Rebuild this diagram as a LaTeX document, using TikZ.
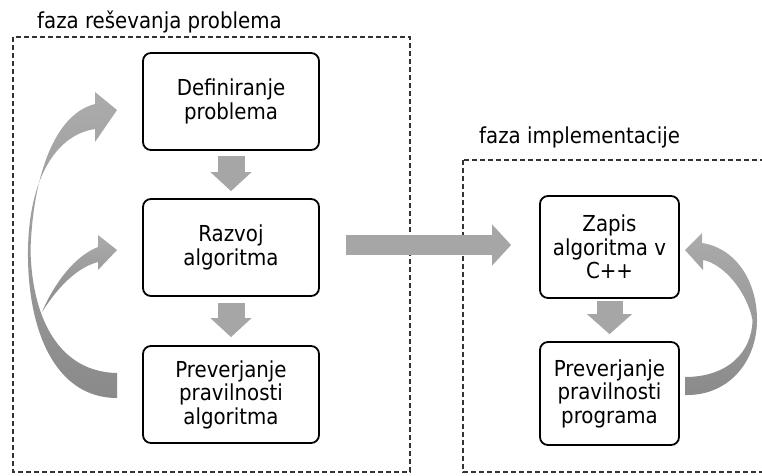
\documentclass[tikz,border=0pt]{standalone}
\usepackage{fontspec}
\setmainfont{DejaVu Sans Condensed}
\usetikzlibrary{arrows.meta,calc}
\definecolor{arrowgray}{HTML}{A6A6A6}
\definecolor{arrowlight}{HTML}{ABABAB}
\definecolor{arrowdark}{HTML}{8A8A8A}
\definecolor{framegray}{HTML}{333333}
\tikzset{
  stepbox/.style={draw=black, line width=1.8pt, rounded corners=8pt, fill=white,
    align=center, inner sep=0pt, font=\fontsize{22}{23.5}\selectfont},
  phase/.style={draw=framegray, line width=1.4pt, dash pattern=on 5pt off 3pt},
  phasetitle/.style={anchor=base west, inner sep=0pt, font=\fontsize{22}{24}\selectfont},
  downarrow/.style={draw=arrowgray, line width=27pt, -{Triangle[width=40pt,length=19pt]}},
  flowarrow/.style={draw=arrowgray, line width=20pt, -{Triangle[width=40pt,length=19pt]}},
  loopfill/.style={top color=arrowlight, bottom color=arrowdark, draw=none},
}
\begin{document}
\begin{tikzpicture}[x=1pt,y=-1pt]
\useasboundingbox (0,0) rectangle (762,475);
\fill[white] (0,0) rectangle (762,475);
\clip (0,0) rectangle (762,475);

% phase frames
\draw[phase] (13,37) rectangle (410,472);
\draw[phase] (463,160) rectangle (790,472);
\node[phasetitle] (t1) at (37,28) {faza reševanja problema};
\node[phasetitle] (t2) at (479,143) {faza implementacije};

% problem-solving steps
\node[stepbox, minimum width=176pt, minimum height=97pt] (d1) at (231,101.5) {Definiranje\\problema};
\node[stepbox, minimum width=176pt, minimum height=97pt] (d2) at (231,247.5) {Razvoj\\algoritma};
\node[stepbox, minimum width=176pt, minimum height=97pt] (d3) at (231,394.5) {Preverjanje\\pravilnosti\\algoritma};

% implementation steps
\node[stepbox, minimum width=139pt, minimum height=102pt] (r1) at (609.5,247) {Zapis\\algoritma v\\C++};
\node[stepbox, minimum width=139pt, minimum height=103pt] (r2) at (609.5,393.5) {Preverjanje\\pravilnosti\\programa};

% straight flow arrows
\draw[downarrow] ($(d1.south)+(0,5)$) -- ($(d2.north)+(0,-7)$);
\draw[downarrow] ($(d2.south)+(0,6)$) -- ($(d3.north)+(0,-8)$);
\draw[downarrow, line width=26pt, -{Triangle[width=44pt,length=20pt]}] ($(r1.south)+(0,2)$) -- ($(r2.north)+(0,-7)$);
\draw[flowarrow] ($(d2.east)+(26,-2.5)$) -- ($(r1.west)+(-28,-2)$);

% feedback loops of the first phase
\shade[loopfill] (117,398) .. controls (55,398) and (27,330) .. (28,250)
  .. controls (29,180) and (55,135) .. (95,129) -- (95,142) -- (117,110) -- (95,92) -- (95,104)
  .. controls (55,114) and (33,175) .. (30.5,250)
  .. controls (32,320) and (60,372) .. (117,373) -- cycle;
\shade[loopfill] (42,312) .. controls (55,282) and (75,256) .. (98,247) -- (98,235) -- (117,250)
  -- (98,270) -- (98,262) .. controls (75,268) and (56,290) .. (42,312) -- cycle;

% feedback loop of the implementation phase
\shade[loopfill] (685,395) .. controls (730,396) and (757,360) .. (757,320)
  .. controls (757,280) and (735,248) .. (702,243) -- (702,233) -- (685,250) -- (703,270) -- (703,260)
  .. controls (724,264) and (747,292) .. (752.5,320)
  .. controls (752,352) and (728,377) .. (685,377) -- cycle;
\end{tikzpicture}
\end{document}
